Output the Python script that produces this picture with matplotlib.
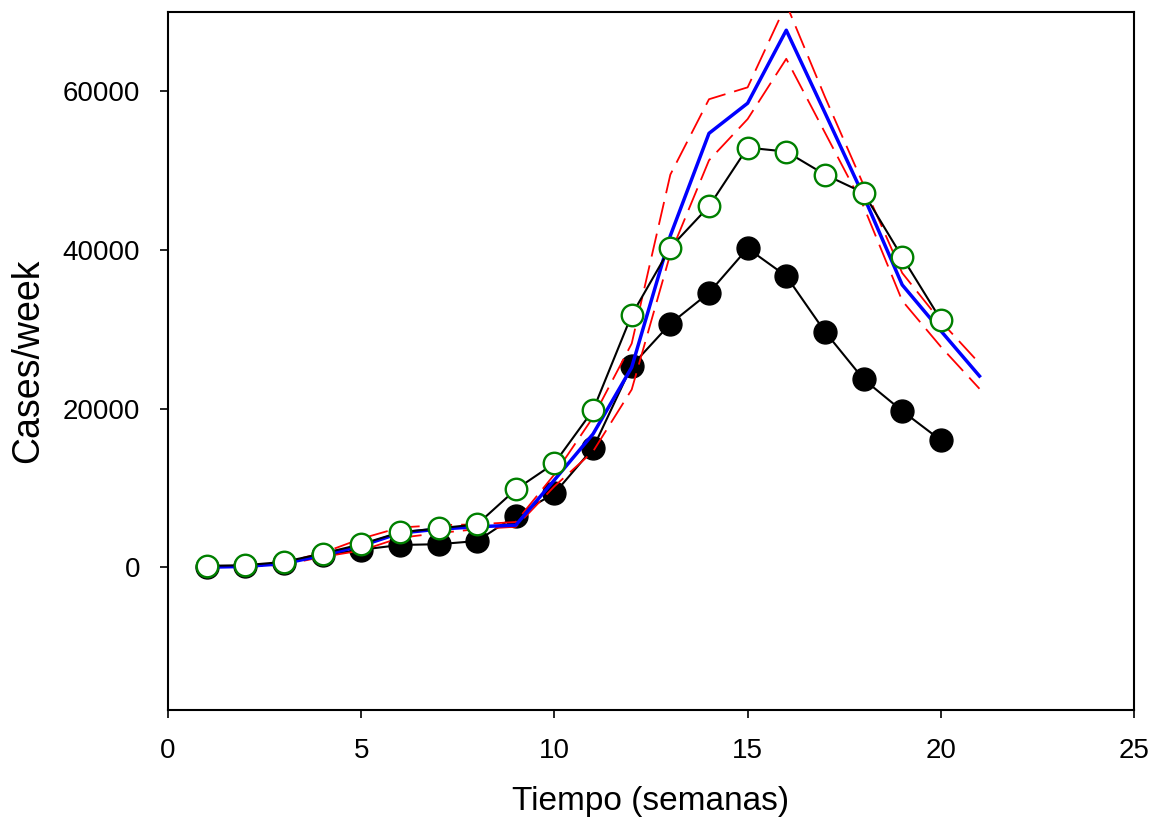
import matplotlib
matplotlib.use("Agg")
import matplotlib.pyplot as plt

plt.rcParams['font.family'] = ['Liberation Sans', 'DejaVu Sans']

weeks_obs = list(range(1, 21))
weeks_model = list(range(1, 22))

observed_black = [0, 100, 500, 1500, 2200, 2800, 2900, 3300, 6500, 9300,
                  15000, 25400, 30700, 34600, 40200, 36700, 29700, 23700, 19700, 16000]
observed_green = [170, 250, 670, 1720, 2900, 4400, 4900, 5400, 9800, 13100,
                  19800, 31800, 40300, 45500, 52900, 52400, 49500, 47200, 39100, 31200]
model_mean = [0, 100, 450, 1500, 2700, 4300, 4800, 5100, 5300, 11000,
              16800, 25200, 41800, 54700, 58500, 67700, 57300, 46800, 35600, 29800, 24100]
model_upper = [0, 150, 600, 1800, 3600, 5000, 5300, 5400, 5700, 11700,
               18900, 28200, 49500, 59000, 60500, 71000, 59300, 48200, 37100, 31000, 25700]
model_lower = [0, 50, 300, 1300, 2100, 3700, 4300, 4800, 5100, 10200,
               14600, 22400, 39500, 51300, 56500, 64100, 54800, 45500, 33600, 27800, 22500]

fig = plt.figure(figsize=(11.54, 8.22), dpi=100)
ax = fig.add_axes([0.1456, 0.1363, 0.8371, 0.8491])

ax.plot(weeks_obs, observed_black, color='black', lw=1.5, marker='o',
        markersize=16.5, markerfacecolor='black', markeredgecolor='black', zorder=2)
ax.plot(weeks_model, model_upper, color='red', lw=1.3, dashes=(13, 5), zorder=3)
ax.plot(weeks_model, model_lower, color='red', lw=1.3, dashes=(13, 5), zorder=3)
ax.plot(weeks_model, model_mean, color='blue', lw=2.5, zorder=4)
ax.plot(weeks_obs, observed_green, color='black', lw=1.5, marker='o',
        markersize=15.5, markerfacecolor='white', markeredgecolor='green',
        markeredgewidth=1.7, zorder=5)

ax.set_xlim(0, 25)
ax.set_ylim(-18000, 70000)
ax.set_xticks([0, 5, 10, 15, 20, 25])
ax.set_yticks([0, 20000, 40000, 60000])
ax.tick_params(axis='both', direction='out', length=6, width=1.2, labelsize=20, pad=14,
               top=False, right=False)
for s in ax.spines.values():
    s.set_linewidth(1.5)

ax.set_xlabel('Tiempo (semanas)', fontsize=24, labelpad=16)
ax.set_ylabel('Cases/week', fontsize=27, labelpad=12)

fig.savefig('out.png', dpi=100)
